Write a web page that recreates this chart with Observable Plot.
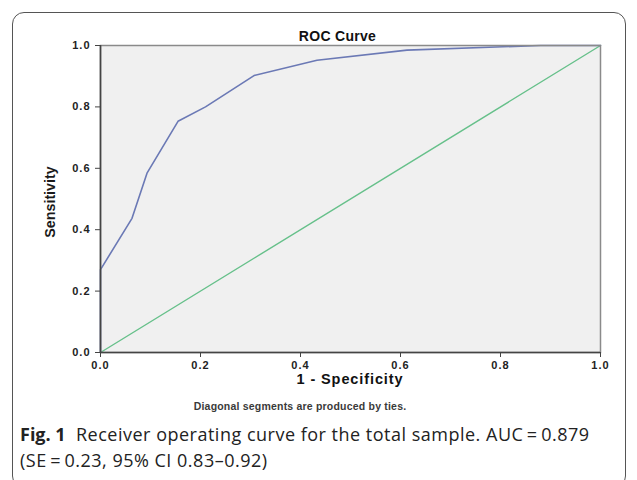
<!DOCTYPE html>
<html>
<head>
<meta charset="utf-8">
<script src="https://cdn.jsdelivr.net/npm/d3@7"></script>
<script src="https://cdn.jsdelivr.net/npm/@observablehq/plot@0.6"></script>
<style>
  html, body { margin: 0; padding: 0; background: #fff; width: 637px; height: 480px; overflow: hidden; }
  #wrap { position: relative; width: 637px; height: 480px; }
  #box { position: absolute; left: 12px; top: 12px; width: 614px; height: 476px; border: 1.5px solid #555; border-radius: 12px; box-sizing: border-box; }
  #chart { position: absolute; left: 0; top: 0; }
  #chart svg text { letter-spacing: 1px; }
  .t { position: absolute; white-space: nowrap; font-family: Arial, "Liberation Sans", sans-serif; color: #111; }
  #title { left: 0; width: 675px; text-align: center; top: 28px; font-size: 14px; font-weight: bold; letter-spacing: 0.3px; }
  #ylab { left: 49px; top: 202px; font-size: 15px; font-weight: bold; transform: translate(-50%, -50%) rotate(-90deg) scaleX(0.95); color: #1a1a1a; }
  #xlab { left: 0; width: 700px; text-align: center; top: 371px; font-size: 14.5px; font-weight: bold; letter-spacing: 0.9px; }
  #note { left: 0; width: 600px; text-align: center; top: 400px; font-size: 10.5px; font-weight: bold; color: #3a3a3a; letter-spacing: 0.2px; }
  #cap { left: 20px; top: 421px; font-family: "Open Sans", Roboto, sans-serif; font-size: 18px; color: #222; line-height: 26px; font-weight: 400; letter-spacing: 0.5px; }
  #cap b { font-weight: 700; letter-spacing: 0; }
</style>
</head>
<body>
<div id="wrap">
  <div id="box"></div>
  <div id="chart"></div>
  <div class="t" id="title">ROC Curve</div>
  <div class="t" id="ylab">Sensitivity</div>
  <div class="t" id="xlab">1 - Specificity</div>
  <div class="t" id="note">Diagonal segments are produced by ties.</div>
  <div class="t" id="cap"><b>Fig. 1</b>&nbsp; Receiver operating curve for the total sample. AUC&#8201;=&#8201;0.879<br>(SE&#8201;=&#8201;0.23, 95% CI 0.83–0.92)</div>
</div>
<script>
// ROC curve points
const fpr = [0, 0, 0.063, 0.093, 0.155, 0.21, 0.307, 0.433, 0.613, 0.88, 1];
const tpr = [0, 0.27, 0.437, 0.584, 0.753, 0.80, 0.902, 0.952, 0.985, 1.0, 1];
// Reference line
const refX = [0, 1];
const refY = [0, 1];
const ticks = [0, 0.2, 0.4, 0.6, 0.8, 1.0];

const roc = fpr.map((x, i) => ({x, y: tpr[i]}));
const ref = refX.map((x, i) => ({x, y: refY[i]}));

const plot = Plot.plot({
  width: 637,
  height: 420,
  marginLeft: 100,
  marginRight: 37,
  marginTop: 45,
  marginBottom: 68,
  style: {fontFamily: "Arial, 'Liberation Sans', sans-serif", background: "transparent"},
  x: {domain: [0, 1]},
  y: {domain: [0, 1]},
  marks: [
    Plot.frame({fill: "#f0f0f0", stroke: null}),
    Plot.line(ref, {x: "x", y: "y", stroke: "#66c08a", strokeWidth: 1.4}),
    Plot.line(roc, {x: "x", y: "y", stroke: "#6b79b5", strokeWidth: 1.6}),
    Plot.frame({stroke: "#8a8a8a", strokeWidth: 1.5}),
    Plot.ruleX([0], {stroke: "#444", strokeWidth: 1.6}),
    Plot.ruleY([0], {stroke: "#444", strokeWidth: 1.6}),
    Plot.axisX({ticks, tickFormat: d3.format(".1f"), tickSize: 5, tickPadding: 4, fontSize: 11, fontWeight: "bold", stroke: "#444", fill: "#222", label: null}),
    Plot.axisY({ticks, tickFormat: d3.format(".1f"), tickSize: 5, tickPadding: 5, fontSize: 11, fontWeight: "bold", stroke: "#444", fill: "#222", label: null})
  ]
});
document.getElementById("chart").appendChild(plot);
</script>
</body>
</html>
